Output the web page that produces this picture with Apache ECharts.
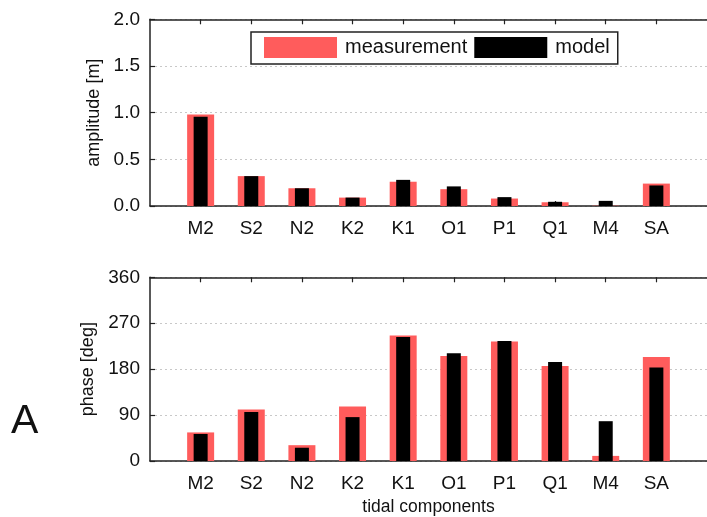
<!DOCTYPE html>
<html>
<head>
<meta charset="utf-8">
<script src="https://cdn.jsdelivr.net/npm/echarts@6/dist/echarts.min.js"></script>
<style>
  html, body { margin: 0; padding: 0; background: #fff; }
  #chart { width: 707px; height: 517px; }
</style>
</head>
<body>
<div id="chart"></div>
<script>
// Tidal constituents and their amplitude / phase, measured vs. modelled
const components = ['M2', 'S2', 'N2', 'K2', 'K1', 'O1', 'P1', 'Q1', 'M4', 'SA'];
const ampMeasured = [0.98, 0.32, 0.19, 0.09, 0.26, 0.18, 0.08, 0.04, 0.003, 0.24];
const ampModel    = [0.955, 0.32, 0.19, 0.09, 0.28, 0.21, 0.095, 0.045, 0.055, 0.22];
const phaseMeasured = [56, 101, 31, 107, 246, 206, 234, 186, 10, 204];
const phaseModel    = [53, 96, 26, 86, 243, 211, 235, 194, 78, 183];

const RED = '#ff5c5c';
const FONT = 'Liberation Sans, Arial, Helvetica, sans-serif';
const AXIS_COLOR = '#222';
const TEXT_COLOR = '#111';

// place each constituent at x = 1..10 on a 0..11 axis
const pairs = vals => vals.map((v, i) => [i + 1, v]);
const positions = components.map((c, i) => i + 1);

function xAxisPair(gridIndex, withName) {
  const common = {
    gridIndex, type: 'value', min: 0, max: 11, interval: 1,
    axisLine: { show: true, onZero: false, lineStyle: { color: AXIS_COLOR, width: 1.5 } },
    axisTick: {
      show: true, inside: true, length: 5,
      lineStyle: { color: AXIS_COLOR, width: 1.2 },
      customValues: positions
    },
    splitLine: { show: false }
  };
  return [
    Object.assign({}, common, {
      position: 'bottom',
      axisLabel: {
        show: true, margin: 13, fontSize: 19, color: TEXT_COLOR, fontFamily: FONT,
        customValues: positions,
        formatter: v => components[v - 1] || ''
      },
      name: withName ? 'tidal components' : '',
      nameLocation: 'middle', nameGap: 37,
      nameTextStyle: { fontSize: 17.5, color: TEXT_COLOR, fontFamily: FONT }
    }),
    Object.assign({}, common, {
      position: 'top',
      axisLabel: { show: false }
    })
  ];
}

function yAxis(gridIndex, max, interval, name, digits) {
  return {
    gridIndex, type: 'value', min: 0, max, interval,
    name, nameLocation: 'middle', nameRotate: 90, nameGap: 46,
    nameTextStyle: { fontSize: 18, color: TEXT_COLOR, fontFamily: FONT },
    axisLine: { show: true, lineStyle: { color: AXIS_COLOR, width: 1.5 } },
    axisTick: { show: true, inside: true, length: 5, lineStyle: { color: AXIS_COLOR, width: 1.2 } },
    axisLabel: {
      margin: 10, fontSize: 19, color: TEXT_COLOR, fontFamily: FONT,
      formatter: v => v.toFixed(digits)
    },
    splitLine: { show: true, lineStyle: { color: '#c8c8c8', type: [2, 3], width: 1 } }
  };
}

function bar(name, data, xIdx, yIdx, color, width) {
  return {
    name, type: 'bar', xAxisIndex: xIdx, yAxisIndex: yIdx,
    data: pairs(data), barWidth: width,
    itemStyle: { color },
    z: name === 'model' ? 3 : 2
  };
}

const chart = echarts.init(document.getElementById('chart'), null, { renderer: 'canvas' });
chart.setOption({
  animation: false,
  backgroundColor: '#fff',
  grid: [
    { left: 150, top: 19.3, width: 568.7, height: 186.7 },
    { left: 150, top: 277.3, width: 568.7, height: 186.7 }
  ],
  xAxis: [...xAxisPair(0, false), ...xAxisPair(1, true)],
  yAxis: [
    yAxis(0, 2, 0.5, 'amplitude [m]', 1),
    yAxis(1, 360, 90, 'phase [deg]', 0)
  ],
  legend: {
    left: 251, top: 32,
    data: ['measurement', 'model'],
    icon: 'rect', itemWidth: 73, itemHeight: 21, itemGap: 7,
    borderColor: '#222', borderWidth: 1.5, borderRadius: 0,
    padding: [5, 8, 6, 13],
    textStyle: { fontSize: 20, color: TEXT_COLOR, fontFamily: FONT, padding: [0, 0, 0, 3] },
    selectedMode: false
  },
  series: [
    bar('measurement', ampMeasured, 0, 0, RED, 27),
    bar('model', ampModel, 1, 0, '#000', 14),
    bar('measurement', phaseMeasured, 2, 1, RED, 27),
    bar('model', phaseModel, 3, 1, '#000', 14)
  ],
  graphic: [{
    type: 'text', left: 11, top: 401,
    style: { text: 'A', fontSize: 41, fill: TEXT_COLOR, fontFamily: FONT }
  }]
});
</script>
</body>
</html>
